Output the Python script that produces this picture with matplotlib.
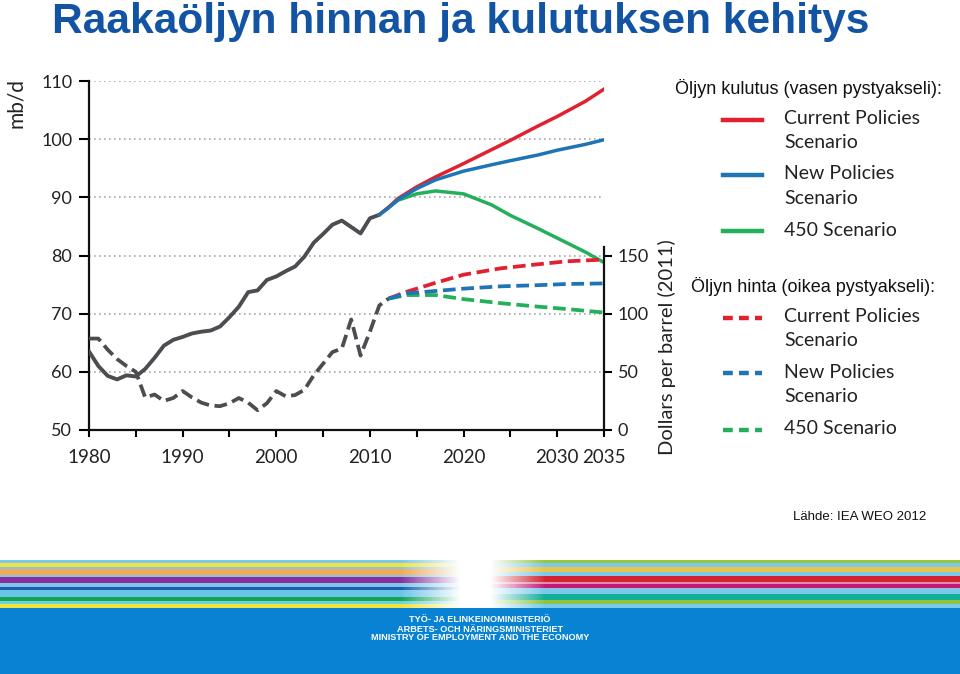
import numpy as np
import matplotlib.pyplot as plt
from matplotlib.lines import Line2D
from matplotlib.colors import to_rgb

# historical oil demand, mb/d
hist_years = list(range(1980, 2012))
hist_demand = [63.5, 61.0, 59.3, 58.7, 59.4, 59.2, 60.5, 62.4, 64.5, 65.5,
               66.0, 66.6, 66.9, 67.1, 67.8, 69.4, 71.2, 73.7, 74.0, 75.8,
               76.4, 77.3, 78.1, 79.8, 82.2, 83.7, 85.3, 86.0, 84.9, 83.8,
               86.4, 87.0]

# historical oil price, dollars per barrel (2011)
price_years = list(range(1980, 2013))
hist_price = [78.6, 78.6, 69.0, 61.0, 55.0, 50.0, 28.0, 30.5, 25.0, 27.5,
              33.5, 28.0, 23.5, 21.0, 20.5, 23.0, 27.5, 23.5, 17.0, 23.0,
              33.5, 29.0, 30.0, 34.5, 47.0, 57.0, 67.0, 70.0, 95.0, 64.0,
              84.5, 107.0, 113.0]

# demand scenarios
scen_years = [2011, 2012, 2013, 2015, 2017, 2020, 2023, 2025, 2028, 2030, 2033, 2035]
cps_demand = [87.0, 88.3, 89.8, 91.8, 93.5, 95.8, 98.2, 99.8, 102.3, 103.9, 106.5, 108.6]
nps_demand = [87.0, 88.2, 89.6, 91.5, 93.0, 94.5, 95.6, 96.3, 97.3, 98.1, 99.1, 99.9]
s450_demand = [87.0, 88.3, 89.5, 90.6, 91.1, 90.6, 88.7, 86.9, 84.6, 83.0, 80.6, 78.8]

# price scenarios
pscen_years = [2012, 2014, 2017, 2020, 2024, 2028, 2031, 2035]
cps_price = [113, 119, 126.5, 133.5, 139, 142.5, 145, 146.5]
nps_price = [113, 117.5, 119.5, 121.5, 123.5, 124.5, 125.5, 126]
s450_price = [113, 116, 116, 112.5, 109, 106, 104, 101]

GRAY = '#4b4d51'
RED = '#e2202f'
BLUE = '#1f74b6'
GREEN = '#24b05a'
TXT = '#222222'
CAL = ['Lato', 'DejaVu Sans']
ARIAL = ['Liberation Sans', 'DejaVu Sans']

W, H = 960, 674
fig = plt.figure(figsize=(9.6, 6.74), dpi=100)

def fx(px):
    return px / W

def fy(py):
    return 1 - py / H

ax = fig.add_axes([fx(89), fy(430), fx(604 - 89), (430 - 81) / H])
ax.set_xlim(1980, 2035)
ax.set_ylim(50, 110)
ax.set_yticks(range(50, 111, 10))
ax.set_xticks(range(1980, 2036, 5))
ax.set_xticklabels(['1980', '', '1990', '', '2000', '', '2010', '', '2020', '', '2030', '2035'])
ax.yaxis.grid(True, linestyle=(0, (1, 2)), color='#a8a8a8', lw=1.2)
ax.set_axisbelow(True)
for s in ['top', 'right']:
    ax.spines[s].set_visible(False)
for s in ['left', 'bottom']:
    ax.spines[s].set_linewidth(1.6)
    ax.spines[s].set_color('#111111')
ax.tick_params(axis='y', direction='out', length=7, width=1.5, pad=5, labelsize=13, labelcolor=TXT)
ax.tick_params(axis='x', direction='out', length=5, width=1.5, pad=9, labelsize=13.5, labelcolor=TXT)
for lab in ax.get_xticklabels() + ax.get_yticklabels():
    lab.set_family(CAL)

ax.plot(hist_years, hist_demand, color=GRAY, lw=2.8, solid_capstyle='round', zorder=3)
ax.plot(scen_years, s450_demand, color=GREEN, lw=2.5, zorder=3)
ax.plot(scen_years, cps_demand, color=RED, lw=2.5, zorder=4)
ax.plot(scen_years, nps_demand, color=BLUE, lw=2.5, zorder=5)

ax2 = ax.twinx()
ax2.set_ylim(0, 300)
ax2.set_yticks([0, 50, 100, 150])
for s in ['top', 'left', 'bottom']:
    ax2.spines[s].set_visible(False)
ax2.spines['right'].set_bounds(0, 157)
ax2.spines['right'].set_linewidth(1.6)
ax2.spines['right'].set_color('#111111')
ax2.tick_params(axis='y', direction='out', length=6, width=1.5, pad=4, labelsize=13, labelcolor=TXT)
for lab in ax2.get_yticklabels():
    lab.set_family(CAL)

dash = dict(lw=2.7, dashes=(3.4, 1.5), dash_capstyle='butt')
ax2.plot(price_years, hist_price, color=GRAY, **dash)
ax2.plot(pscen_years, cps_price, color=RED, **dash)
ax2.plot(pscen_years, s450_price, color=GREEN, **dash)
ax2.plot(pscen_years, nps_price, color=BLUE, **dash)

# axis titles
fig.text(fx(16), fy(103), 'mb/d', rotation=90, ha='center', va='center',
         fontsize=15, color=TXT, family=CAL)
fig.text(fx(667), fy(347), 'Dollars per barrel (2011)', rotation=90, ha='center', va='center',
         fontsize=14.5, color=TXT, family=CAL)

# title
fig.text(fx(52), fy(33), 'Raakaöljyn hinnan ja kulutuksen kehitys', ha='left', va='baseline',
         fontsize=30.6, weight='bold', color='#1254a3',
         family=['Liberation Sans Narrow', 'Liberation Sans'])

# legend
fig.text(fx(675), fy(88), 'Öljyn kulutus (vasen pystyakseli):', ha='left', va='center',
         fontsize=13, color='#111111', family=ARIAL)
fig.text(fx(691), fy(287), 'Öljyn hinta (oikea pystyakseli):', ha='left', va='center',
         fontsize=13, color='#111111', family=ARIAL)
entries = [
    (120, RED, '-', ['Current Policies', 'Scenario']),
    (175, BLUE, '-', ['New Policies', 'Scenario']),
    (231, GREEN, '-', ['450 Scenario']),
    (318, RED, '--', ['Current Policies', 'Scenario']),
    (373, BLUE, '--', ['New Policies', 'Scenario']),
    (430, GREEN, '--', ['450 Scenario']),
]
for y, c, ls, lines in entries:
    kw = dict(lw=3.2, color=c)
    if ls == '--':
        kw.update(dashes=(2.2, 1.4))
    fig.add_artist(Line2D([fx(723), fx(762)], [fy(y), fy(y)], transform=fig.transFigure, **kw))
    for i, t in enumerate(lines):
        fig.text(fx(784), fy(y - 1 + 24 * i), t, ha='left', va='center', fontsize=14,
                 color=TXT, family=CAL)

fig.text(fx(793), fy(517), 'Lähde: IEA WEO 2012', ha='left', va='center',
         fontsize=9.5, color='#111111', family=ARIAL)

# footer band
fax = fig.add_axes([0, 0, 1, (H - 558) / H])
fax.set_xlim(0, W)
fax.set_ylim(H, 558)
fax.axis('off')
fax.axhspan(608, H, color='#0882d3', lw=0)

left_stripes = [(560, 563, '#7cc8ea'), (563, 567, '#f2e33c'), (567, 569, '#7cc8ea'),
                (569, 575, '#f4a955'), (575, 577, '#7cc8ea'), (577, 583, '#8a2f9a'),
                (583, 587, '#7cc8ea'), (587, 590, '#1b5fa6'), (590, 597, '#6cc3ea'),
                (597, 601, '#12a550'), (601, 604, '#6fd0e0'), (604, 608, '#f2e33c')]
right_stripes = [(560, 563, '#92c83e'), (563, 567, '#7cc8ea'), (567, 572, '#e6c44c'),
                 (572, 576, '#7cc8ea'), (576, 582, '#d2232f'), (582, 584, '#e28cb5'),
                 (584, 588, '#c41a76'), (588, 594, '#7cc8ea'), (594, 600, '#12ae98'),
                 (600, 604, '#8cc63e'), (604, 608, '#7cc8ea')]

img = np.ones((48, W, 3))
xs = np.arange(W)
wl = np.clip((460 - xs) / 60, 0, 1)
wr = np.clip((xs - 490) / 55, 0, 1)
for y0, y1, c in left_stripes:
    rgb = np.array(to_rgb(c))
    img[y0 - 560:y1 - 560] = img[y0 - 560:y1 - 560] * (1 - wl[None, :, None]) + rgb * wl[None, :, None]
for y0, y1, c in right_stripes:
    rgb = np.array(to_rgb(c))
    img[y0 - 560:y1 - 560] = img[y0 - 560:y1 - 560] * (1 - wr[None, :, None]) + rgb * wr[None, :, None]
fax.imshow(img, extent=(0, W, 608, 560), aspect='auto', interpolation='bilinear')
fax.set_ylim(H, 558)

for y, t in [(619, 'TYÖ- JA ELINKEINOMINISTERIÖ'), (629, 'ARBETS- OCH NÄRINGSMINISTERIET'),
             (638, 'MINISTRY OF EMPLOYMENT AND THE ECONOMY')]:
    fax.text(480, y, t, ha='center', va='center', fontsize=6.6, weight='bold',
             color='white', family=ARIAL)

fig.savefig('out.png', dpi=100)
